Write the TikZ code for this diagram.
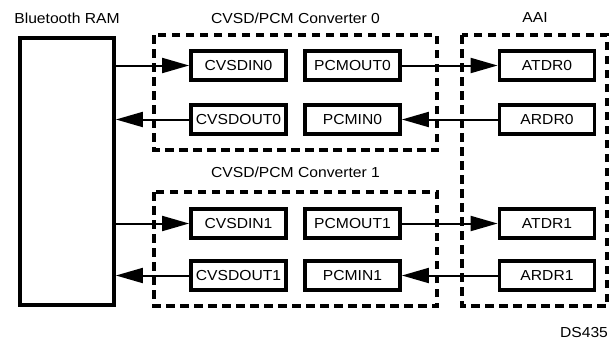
\documentclass[tikz,border=0pt]{standalone}
\usepackage{fontspec}
\setmainfont{Liberation Sans}[FakeStretch=1.08]
\usetikzlibrary{arrows.meta}
\begin{document}
\begin{tikzpicture}[x=1pt, y=-1pt,
    font=\fontsize{14.5}{16}\selectfont,
    reg/.style={draw, line width=3.8pt, minimum width=95pt, minimum height=29pt, inner sep=0pt},
    unit/.style={draw, line width=3.8pt, dash pattern=on 8.5pt off 5.5pt},
    link/.style={line width=2pt, -{Triangle[length=27pt, width=15pt]}}]
    \useasboundingbox (0,0) rectangle (611,343);

    % blocks
    \node[draw, line width=3.8pt, minimum width=94pt, minimum height=267pt] (ram) at (67,171.5) {};
    \node (ramlabel) at (67,18) {Bluetooth RAM};

    \draw[unit] (154,35) rectangle (437,150);
    \draw[unit] (154,192) rectangle (437,306);
    \draw[unit] (462,35) rectangle (607,306);
    \node (conv0) at (295.5,18) {CVSD/PCM Converter 0};
    \node (conv1) at (295.5,172) {CVSD/PCM Converter 1};
    \node (aai) at (535,18) {AAI};

    % registers
    \node[reg] (cvsdin0)  at (238.5,65.5)  {CVSDIN0};
    \node[reg] (cvsdout0) at (238.5,119.5) {CVSDOUT0};
    \node[reg] (pcmout0)  at (352.5,65.5)  {PCMOUT0};
    \node[reg] (pcmin0)   at (352.5,119.5) {PCMIN0};
    \node[reg] (atdr0)    at (547,65.5)    {ATDR0};
    \node[reg] (ardr0)    at (547,119.5)   {ARDR0};

    \node[reg] (cvsdin1)  at (238.5,223.5) {CVSDIN1};
    \node[reg] (cvsdout1) at (238.5,275.5) {CVSDOUT1};
    \node[reg] (pcmout1)  at (352.5,223.5) {PCMOUT1};
    \node[reg] (pcmin1)   at (352.5,275.5) {PCMIN1};
    \node[reg] (atdr1)    at (547,223.5)   {ATDR1};
    \node[reg] (ardr1)    at (547,275.5)   {ARDR1};

    % data paths
    \draw[link] (ram.east |- cvsdin0) -- (cvsdin0.west);
    \draw[link] (cvsdout0.west) -- (ram.east |- cvsdout0);
    \draw[link] (pcmout0.east) -- (atdr0.west);
    \draw[link] (ardr0.west) -- (pcmin0.east);

    \draw[link] (ram.east |- cvsdin1) -- (cvsdin1.west);
    \draw[link] (cvsdout1.west) -- (ram.east |- cvsdout1);
    \draw[link] (pcmout1.east) -- (atdr1.west);
    \draw[link] (ardr1.west) -- (pcmin1.east);

    \node (tag) at (584,333) {DS435};
\end{tikzpicture}
\end{document}
